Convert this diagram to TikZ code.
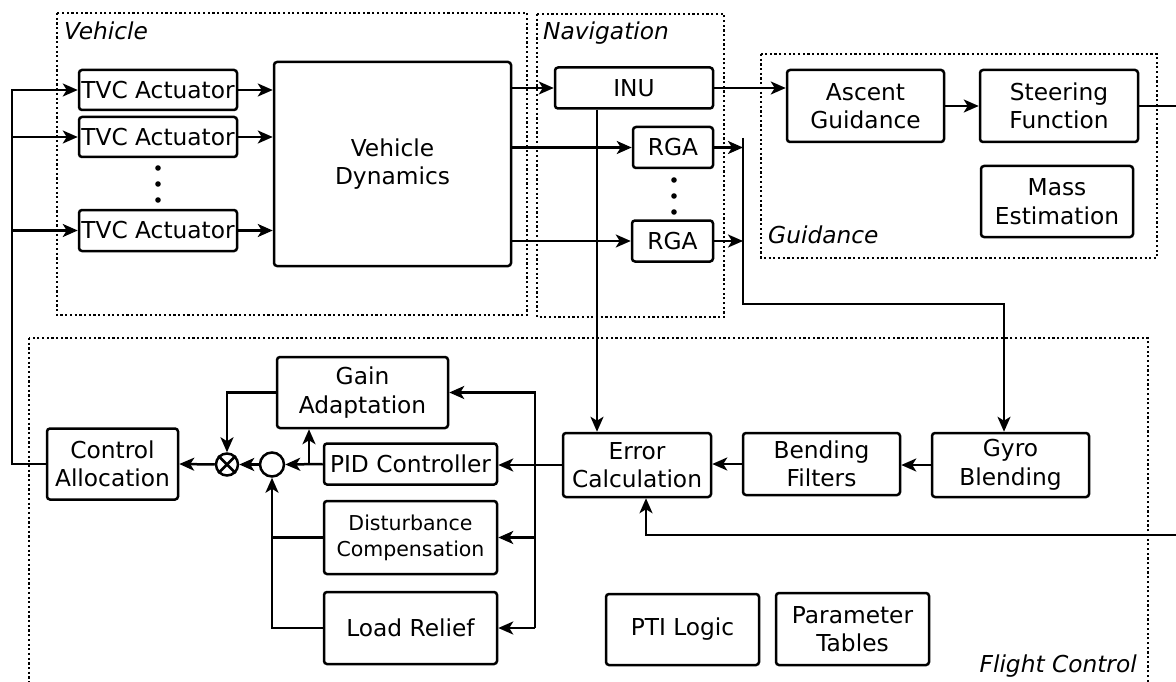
\documentclass[tikz,border=0pt]{standalone}
\usepackage{fontspec}
\setmainfont{DejaVu Sans}
\usetikzlibrary{arrows.meta}
\begin{document}
\begin{tikzpicture}[x=1pt,y=-1pt,
  every node/.style={font=\fontsize{23.3}{28.5}\selectfont},
  blk/.style={draw, line width=2.5pt, rounded corners=3pt, inner sep=0pt, align=center},
  small/.style={font=\fontsize{20.5}{26}\selectfont},
  grp/.style={line width=2.2pt, dash pattern=on 2.2pt off 2.5pt},
  grplabel/.style={font=\fontsize{23.3}{28.5}\selectfont\itshape, inner sep=0pt},
  wire/.style={line width=2.5pt},
  arr/.style={wire, -{Stealth[length=15pt,width=13pt,inset=4pt]}},
  junc/.style={circle, draw, line width=2.5pt, inner sep=0pt}
]
\useasboundingbox (0,0) rectangle (1176,682);
\clip (0,0) rectangle (1176,682);

% subsystem frames
\draw[grp] (57,13) rectangle (527,315);
\draw[grp] (537,14) rectangle (724,317);
\draw[grp] (761,54) rectangle (1157,258);
\draw[grp] (29,338) rectangle (1148,700);

\node[grplabel, anchor=base west] (lblveh) at (64,40) {Vehicle};
\node[grplabel, anchor=base west] (lblnav) at (543,40) {Navigation};
\node[grplabel, anchor=base west] (lblgui) at (768,243) {Guidance};
\node[grplabel, anchor=base east] (lblfc) at (1137,672) {Flight Control};

% vehicle
\node[blk, minimum width=158pt, minimum height=40pt] (tvc1) at (158,90) {TVC Actuator};
\node[blk, minimum width=158pt, minimum height=40pt] (tvc2) at (158,137) {TVC Actuator};
\node[blk, minimum width=158pt, minimum height=41pt] (tvc3) at (158,230.5) {TVC Actuator};
\node[blk, minimum width=237pt, minimum height=204pt] (vd) at (392.5,164) {Vehicle\\Dynamics};

% navigation
\node[blk, minimum width=158pt, minimum height=41pt] (inu) at (634,88) {INU};
\node[blk, minimum width=80pt, minimum height=41pt] (rga1) at (673,147.5) {RGA};
\node[blk, minimum width=81pt, minimum height=41pt] (rga2) at (672.5,241) {RGA};

% guidance
\node[blk, minimum width=157pt, minimum height=72pt] (ascent) at (865.5,106) {Ascent\\Guidance};
\node[blk, minimum width=158pt, minimum height=72pt] (steer) at (1059,106) {Steering\\Function};
\node[blk, minimum width=152pt, minimum height=71pt] (mass) at (1057,201.5) {Mass\\Estimation};

% flight control
\node[blk, minimum width=171pt, minimum height=71pt] (gain) at (362.5,392.5) {Gain\\Adaptation};
\node[blk, minimum width=173pt, minimum height=41pt] (pid) at (410.5,464) {PID Controller};
\node[blk, small, minimum width=173pt, minimum height=73pt] (dist) at (410.5,537.5) {Disturbance\\Compensation};
\node[blk, minimum width=173pt, minimum height=72pt] (load) at (410.5,628) {Load Relief};
\node[blk, minimum width=131pt, minimum height=71pt] (ctrl) at (112.5,464) {Control\\Allocation};
\node[blk, minimum width=148pt, minimum height=64pt] (err) at (637,465) {Error\\Calculation};
\node[blk, minimum width=157pt, minimum height=62pt] (bend) at (821.5,464) {Bending\\Filters};
\node[blk, minimum width=157pt, minimum height=64pt] (gyro) at (1010.5,465) {Gyro\\Blending};
\node[blk, minimum width=153pt, minimum height=71pt] (pti) at (682.5,629.5) {PTI Logic};
\node[blk, minimum width=153pt, minimum height=72pt] (param) at (852.5,629) {Parameter\\Tables};

\node[junc, minimum size=22pt] (mul) at (227,464.5) {};
\draw[line width=2.5pt] (mul.north west) -- (mul.south east) (mul.north east) -- (mul.south west);
\node[junc, minimum size=24pt] (sum) at (272,464.5) {};

% ellipsis dots
\foreach \yy in {168,184,200} \fill (158,\yy) circle (2.8pt);
\foreach \yy in {180,196,212} \fill (674,\yy) circle (2.8pt);

% routing points
\coordinate (busL) at (12,0);
\coordinate (rbtop) at (743,138);
\coordinate (rbbot) at (743,304);
\coordinate (gturn) at (1004,304);
\coordinate (inudrop) at (597,0);
\coordinate (steerout) at (1180,106);
\coordinate (retin) at (1180,535);
\coordinate (errin) at (646,535);
\coordinate (rbus) at (535,0);
\coordinate (pidbr) at (309,0);

% actuator commands
\draw[arr] (ctrl.west) -- (ctrl.west -| busL) |- (tvc1.west);
\draw[arr] (tvc2.west -| busL) -- (tvc2.west);
\draw[arr] (tvc3.west -| busL) -- (tvc3.west);
\draw[arr] (tvc1.east) -- (tvc1.east -| vd.west);
\draw[arr] (tvc2.east) -- (tvc2.east -| vd.west);
\draw[arr] (tvc3.east) -- (tvc3.east -| vd.west);

% sensors
\draw[arr] (vd.east |- inu.west) -- (inu.west);
\draw[arr] (vd.east |- rga1.west) -- (rga1.west);
\draw[arr] (vd.east |- rga2.west) -- (rga2.west);
\draw[arr] (rga1.east) -- (rga1.east -| rbtop);
\draw[arr] (rga2.east) -- (rga2.east -| rbtop);
\draw[arr] (rbtop) -- (rbbot) -- (gturn) -- (gturn |- gyro.north);
\draw[arr] (inu.south -| inudrop) -- (err.north -| inudrop);

% guidance chain
\draw[arr] (inu.east) -- (inu.east -| ascent.west);
\draw[arr] (ascent.east) -- (steer.west);
\draw[wire] (steer.east) -- (steerout);
\draw[arr] (retin) -- (errin) -- (errin |- err.south);

% control loop
\draw[arr] (gyro.west) -- (gyro.west -| bend.east);
\draw[arr] (bend.west) -- (bend.west -| err.east);
\draw[arr] (err.west) -- (err.west -| pid.east);
\draw[arr] (load.east -| rbus) -- (gain.east -| rbus) -- (gain.east);
\draw[arr] (dist.east -| rbus) -- (dist.east);
\draw[arr] (load.east -| rbus) -- (load.east);
\draw[arr] (pid.west) -- (sum.east);
\draw[arr] (pid.west -| pidbr) -- (gain.south -| pidbr);
\draw[arr] (gain.west) -| (mul.north);
\draw[wire] (dist.west) -- (dist.west -| sum.south);
\draw[arr] (load.west) -| (sum.south);
\draw[arr] (sum.west) -- (mul.east);
\draw[arr] (mul.west) -- (ctrl.east);
\end{tikzpicture}
\end{document}
